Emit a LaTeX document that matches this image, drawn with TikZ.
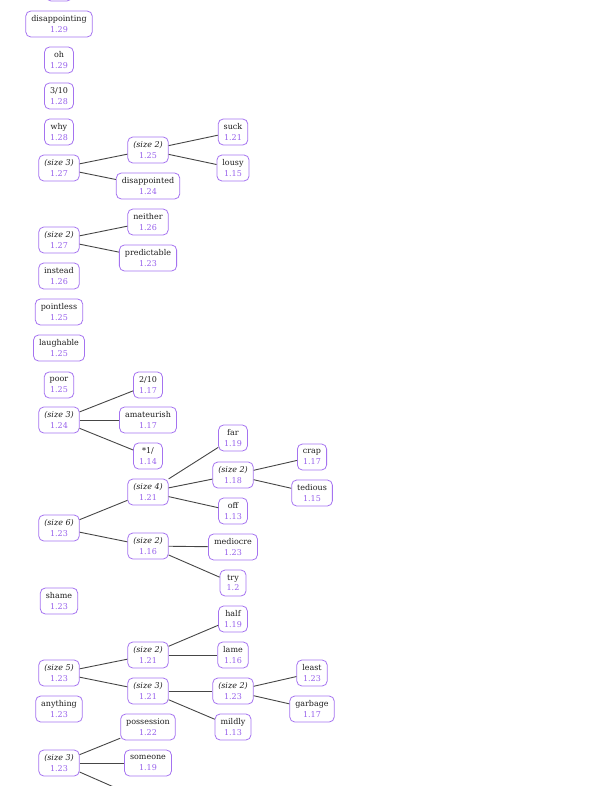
\documentclass[tikz,border=0pt]{standalone}
\usepackage{fontspec}
\setmainfont{DejaVu Serif}
\definecolor{bord}{RGB}{165,115,240}
\definecolor{numc}{RGB}{150,95,235}
\definecolor{edgec}{RGB}{70,70,70}
\definecolor{txtc}{RGB}{30,30,30}
\newcommand{\nd}[2]{#1\\\textcolor{numc}{#2}}
\newcommand{\sz}[2]{\textit{(size #1)}\\\textcolor{numc}{#2}}
\begin{document}
\begin{tikzpicture}[x=1pt,y=-1pt,
  tn/.style={draw=bord, rounded corners=5pt, line width=0.8pt, align=center,
    inner xsep=5.5pt, inner ysep=3pt, text=txtc,
    font=\fontsize{8}{10.5}\selectfont, minimum height=26pt, minimum width=26pt},
  ed/.style={draw=edgec, line width=0.9pt}]
\clip (0,0) rectangle (589,786);
% column 1
\node[tn] (t0) at (59,-12) {\phantom{xx}\\\phantom{xx}};
\node[tn] (n1) at (59,24) {\nd{disappointing}{1.29}};
\node[tn] (n2) at (59,60) {\nd{oh}{1.29}};
\node[tn] (n3) at (59,96) {\nd{3/10}{1.28}};
\node[tn] (n4) at (59,132) {\nd{why}{1.28}};
\node[tn] (a) at (59,168) {\sz{3}{1.27}};
\node[tn] (a1) at (148,150) {\sz{2}{1.25}};
\node[tn] (a11) at (233,132) {\nd{suck}{1.21}};
\node[tn] (a12) at (233,168) {\nd{lousy}{1.15}};
\node[tn] (a2) at (148,186) {\nd{disappointed}{1.24}};
\node[tn] (b) at (59,240) {\sz{2}{1.27}};
\node[tn] (b1) at (148,222) {\nd{neither}{1.26}};
\node[tn] (b2) at (148,258) {\nd{predictable}{1.23}};
\node[tn] (n5) at (59,276) {\nd{instead}{1.26}};
\node[tn] (n6) at (59,312) {\nd{pointless}{1.25}};
\node[tn] (n7) at (59,348) {\nd{laughable}{1.25}};
\node[tn] (n8) at (59,385) {\nd{poor}{1.25}};
\node[tn] (c) at (59,420) {\sz{3}{1.24}};
\node[tn] (c1) at (148,385) {\nd{2/10}{1.17}};
\node[tn] (c2) at (148,420) {\nd{amateurish}{1.17}};
\node[tn] (c3) at (148,456) {\nd{*1/}{1.14}};
\node[tn] (d) at (59,528) {\sz{6}{1.23}};
\node[tn] (d1) at (148,492) {\sz{4}{1.21}};
\node[tn] (d11) at (233,438) {\nd{far}{1.19}};
\node[tn] (d12) at (233,475) {\sz{2}{1.18}};
\node[tn] (d121) at (312,457) {\nd{crap}{1.17}};
\node[tn] (d122) at (312,493) {\nd{tedious}{1.15}};
\node[tn] (d13) at (233,511) {\nd{off}{1.13}};
\node[tn] (d2) at (148,546) {\sz{2}{1.16}};
\node[tn] (d21) at (233,547) {\nd{mediocre}{1.23}};
\node[tn] (d22) at (233,583) {\nd{try}{1.2}};
\node[tn] (n9) at (59,601) {\nd{shame}{1.23}};
\node[tn] (e) at (59,673) {\sz{5}{1.23}};
\node[tn] (e1) at (148,655) {\sz{2}{1.21}};
\node[tn] (e11) at (233,619) {\nd{half}{1.19}};
\node[tn] (e12) at (233,655) {\nd{lame}{1.16}};
\node[tn] (e2) at (148,691) {\sz{3}{1.21}};
\node[tn] (e21) at (233,691) {\sz{2}{1.23}};
\node[tn] (e211) at (312,673) {\nd{least}{1.23}};
\node[tn] (e212) at (312,709) {\nd{garbage}{1.17}};
\node[tn] (e22) at (233,727) {\nd{mildly}{1.13}};
\node[tn] (n10) at (59,709) {\nd{anything}{1.23}};
\node[tn] (f) at (59,763) {\sz{3}{1.23}};
\node[tn] (f1) at (148,727) {\nd{possession}{1.22}};
\node[tn] (f2) at (148,763) {\nd{someone}{1.19}};
\node[tn] (f3) at (148,802) {\phantom{xxx}\\\phantom{xxx}};
% edges
\draw[ed] (a) -- (a1); \draw[ed] (a) -- (a2);
\draw[ed] (a1) -- (a11); \draw[ed] (a1) -- (a12);
\draw[ed] (b) -- (b1); \draw[ed] (b) -- (b2);
\draw[ed] (c) -- (c1); \draw[ed] (c) -- (c2); \draw[ed] (c) -- (c3);
\draw[ed] (d) -- (d1); \draw[ed] (d) -- (d2);
\draw[ed] (d1) -- (d11); \draw[ed] (d1) -- (d12); \draw[ed] (d1) -- (d13);
\draw[ed] (d12) -- (d121); \draw[ed] (d12) -- (d122);
\draw[ed] (d2) -- (d21); \draw[ed] (d2) -- (d22);
\draw[ed] (e) -- (e1); \draw[ed] (e) -- (e2);
\draw[ed] (e1) -- (e11); \draw[ed] (e1) -- (e12);
\draw[ed] (e2) -- (e21); \draw[ed] (e2) -- (e22);
\draw[ed] (e21) -- (e211); \draw[ed] (e21) -- (e212);
\draw[ed] (f) -- (f1); \draw[ed] (f) -- (f2); \draw[ed] (f) -- (f3);
\end{tikzpicture}
\end{document}
